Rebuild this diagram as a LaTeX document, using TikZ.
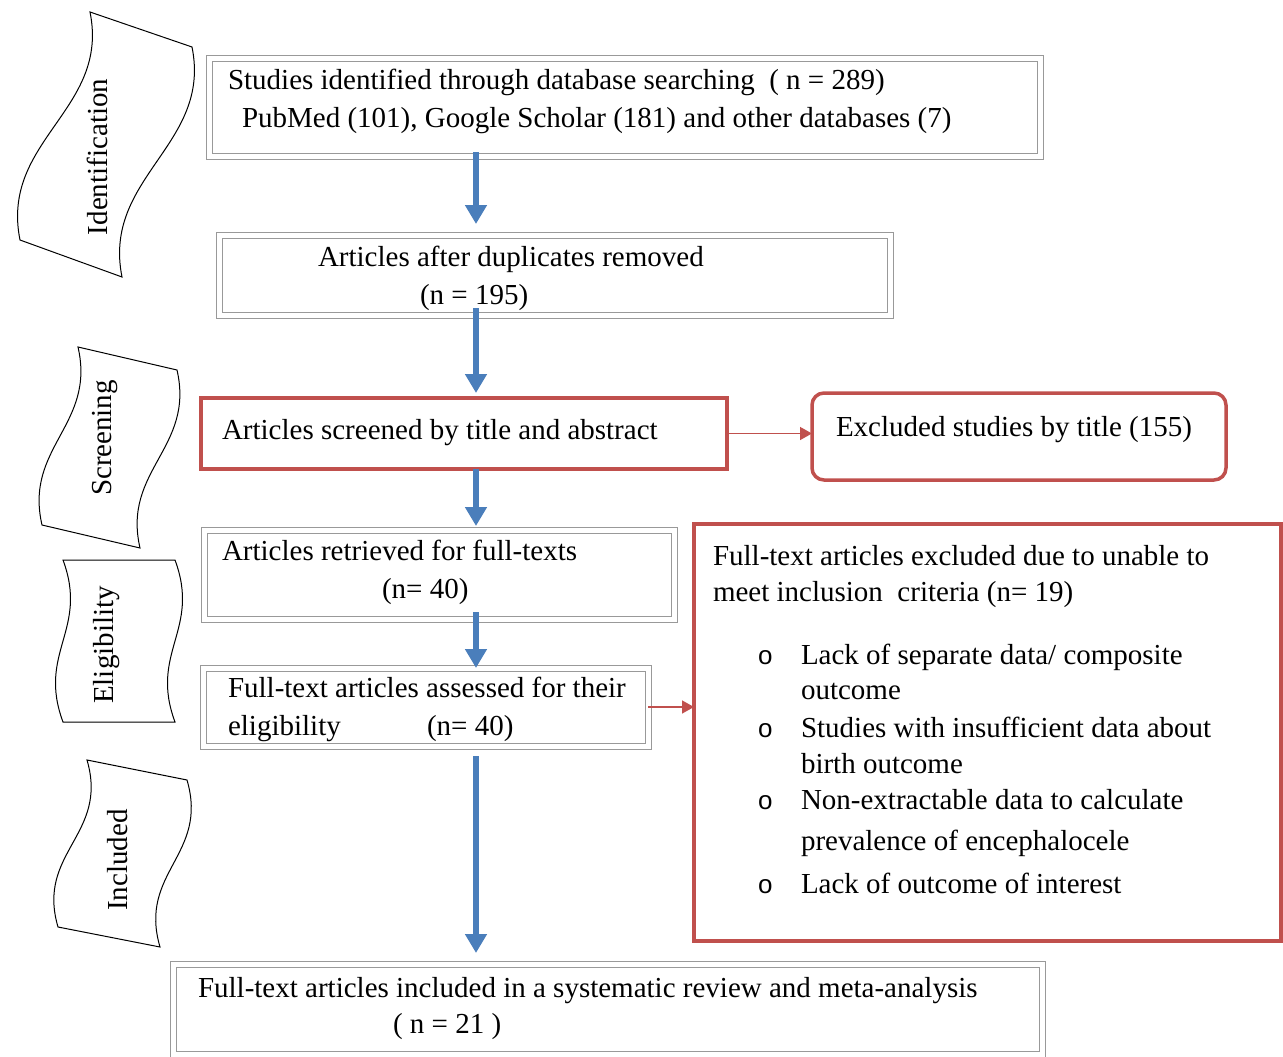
\documentclass[tikz,border=0pt]{standalone}
\usepackage{fontspec}
\setmainfont{Liberation Serif}
\newfontfamily\bulfont{Liberation Sans}
\usetikzlibrary{arrows.meta}
\definecolor{bred}{HTML}{C0504D}
\definecolor{bblue}{HTML}{4A7EBB}
\definecolor{bgray}{HTML}{999999}
\begin{document}
\begin{tikzpicture}[x=1pt,y=-1pt,
  font=\fontsize{29}{35}\selectfont,
  gbox/.style={rectangle, draw=bgray, line width=1pt, double=white, double distance=5pt, inner sep=0pt, outer sep=0pt},
  rbox/.style={rectangle, draw=bred, line width=4pt, inner sep=0pt, outer sep=0pt},
  txt/.style={anchor=base west, inner sep=0pt, outer sep=0pt},
  bul/.style={anchor=base west, inner sep=0pt, outer sep=0pt, font=\bulfont\fontsize{26}{26}\selectfont},
  banner/.style={draw=black, line width=1pt, fill=white},
  bannertxt/.style={rotate=90, inner sep=0pt},
  bluearrow/.style={draw=bblue, line width=6pt, -{Triangle[width=21pt,length=19pt]}},
  redarrow/.style={draw=bred, line width=1.5pt, -{Triangle[width=13pt,length=12pt]}}]
\useasboundingbox (0,0) rectangle (1283,1057);
\coordinate (xa) at (476,0);

% left phase banners
\draw[banner] (90,12) .. controls +(20,98) and +(-20,-100) .. (20,240) -- (122,277) .. controls +(-20,-100) and +(20,98) .. (192,47) -- cycle;
\node[bannertxt] (tid) at (97,157) {Identification};
\draw[banner] (78,347) .. controls +(18,78) and +(-18,-78) .. (42,525) -- (140,548) .. controls +(-18,-78) and +(18,78) .. (177,370) -- cycle;
\node[bannertxt] (tsc) at (105,438) {Screening};
\draw[banner] (63,560) .. controls +(26,70) and +(-26,-70) .. (63,722) -- (175,722) .. controls +(-26,-70) and +(26,70) .. (175,560) -- cycle;
\node[bannertxt] (tel) at (107,645) {Eligibility};
\draw[banner] (87,760) .. controls +(22,75) and +(-22,-75) .. (58,927) -- (160,947) .. controls +(-22,-75) and +(22,75) .. (187,780) -- cycle;
\node[bannertxt] (tin) at (118,860) {Included};

% boxes
\node[gbox, minimum width=831pt, minimum height=97pt] (b1) at (624.5,107.5) {};
\node[txt] (b1a) at (228,89) {Studies identified through database searching\ \ ( n = 289)};
\node[txt] (b1b) at (242,127) {PubMed (101), Google Scholar (181) and other databases (7)};

\node[gbox, minimum width=671pt, minimum height=80pt] (b2) at (555,275) {};
\node[txt] (b2a) at (318,266) {Articles after duplicates removed};
\node[txt] (b2b) at (420,304) {(n = 195)};

\node[rbox, minimum width=526pt, minimum height=71pt] (scr) at (464,433.5) {};
\node[txt] (scra) at (222,439) {Articles screened by title and abstract};

\node[rbox, line width=3.5pt, rounded corners=12pt, minimum width=414pt, minimum height=87pt] (exc) at (1019,436.5) {};
\node[txt] (exca) at (836,436) {Excluded studies by title (155)};

\node[gbox, minimum width=470pt, minimum height=89pt] (ret) at (439,574.5) {};
\node[txt] (reta) at (222,560) {Articles retrieved for full-texts};
\node[txt] (retb) at (382,598) {(n= 40)};

\node[gbox, minimum width=445pt, minimum height=78pt] (ass) at (425.5,707) {};
\node[txt] (assa) at (228,697) {Full-text articles assessed for their};
\node[txt] (assb) at (228,735) {eligibility};
\node[txt] (assc) at (427,735) {(n= 40)};

\node[rbox, minimum width=587pt, minimum height=417pt] (big) at (987.5,732.5) {};
\node[txt] (biga) at (713,565) {Full-text articles excluded due to unable to};
\node[txt] (bigb) at (713,601) {meet inclusion\ \ criteria (n= 19)};
\node[bul] (o1) at (758,664) {o};
\node[bul] (o2) at (758,737) {o};
\node[bul] (o3) at (758,809) {o};
\node[bul] (o4) at (758,893) {o};
\node[txt] (i1a) at (801,664) {Lack of separate data/ composite};
\node[txt] (i1b) at (801,699) {outcome};
\node[txt] (i2a) at (801,737) {Studies with insufficient data about};
\node[txt] (i2b) at (801,773) {birth outcome};
\node[txt] (i3a) at (801,809) {Non-extractable data to calculate};
\node[txt] (i3b) at (801,850) {prevalence of encephalocele};
\node[txt] (i4a) at (801,893) {Lack of outcome of interest};

\node[gbox, minimum width=869pt, minimum height=90pt] (fin) at (607.5,1009) {};
\node[txt] (fina) at (198,997) {Full-text articles included in a systematic review and meta-analysis};
\node[txt] (finb) at (393,1033) {( n = 21 )};

% connectors
\draw[bluearrow, shorten <=-4pt, shorten >=11pt] (b1.south -| xa) -- (b2.north -| xa);
\draw[bluearrow, shorten <=-7pt, shorten >=5pt] (b2.south -| xa) -- (scr.north -| xa);
\draw[bluearrow, shorten >=4pt] (scr.south -| xa) -- (ret.north -| xa);
\draw[bluearrow, shorten <=-7pt] (ret.south -| xa) -- (ass.north -| xa);
\draw[bluearrow, shorten <=10pt, shorten >=11pt] (ass.south -| xa) -- (fin.north -| xa);
\draw[redarrow] (scr.east) -- (scr.east -| exc.west);
\draw[redarrow] (ass.east) -- (ass.east -| big.west);
\end{tikzpicture}
\end{document}
